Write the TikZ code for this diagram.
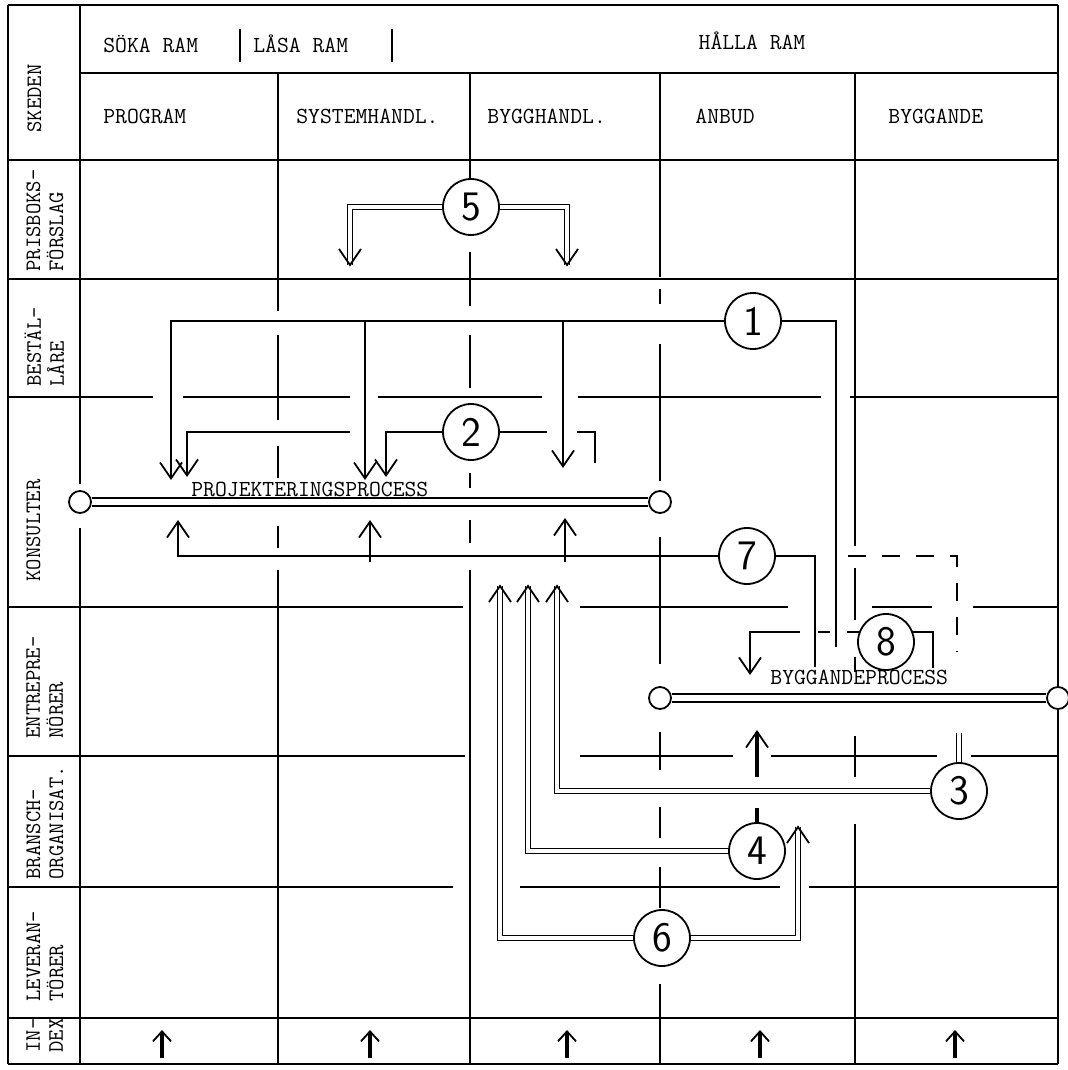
\documentclass[tikz,border=0pt]{standalone}
\usepackage{fontspec}
\usepackage{tikz}
\usetikzlibrary{arrows.meta}
\usetikzlibrary{positioning}

\tikzset{
  gline/.style={line width=1pt},
  conn/.style={line width=0.9pt},
  dconn/.style={double, double distance=1.8pt, line width=0.55pt},
  procline/.style={double, double distance=3.2pt, line width=1pt},
  numcirc/.style={circle, draw, line width=0.9pt, minimum size=28pt, inner sep=0pt, font=\sffamily\fontsize{21}{21}\selectfont},
  endcirc/.style={circle, draw, line width=0.9pt, minimum size=11pt, inner sep=0pt, fill=white},
  tw/.style={font=\ttfamily\fontsize{11.5}{13}\selectfont, inner sep=0pt},
  rowlabel/.style={font=\ttfamily\fontsize{11}{11.5}\selectfont, inner sep=0pt, rotate=90, align=left, anchor=north west},
  barb/.style={line width=0.9pt},
  idx/.style={line width=1.6pt, -{Straight Barb[length=5pt,width=9pt,line width=0.9pt]}},
  >={Straight Barb[length=8pt,width=11pt]},
}
% open heads for the double flow lines
\newcommand{\uphead}[1]{\draw[barb] ([shift={(-11,16)}]#1) -- (#1) -- ++(11,16);}
\newcommand{\downhead}[1]{\draw[barb] ([shift={(-11,-16)}]#1) -- (#1) -- ++(11,-16);}

\begin{document}
\begin{tikzpicture}[x=0.5pt, y=-0.5pt]
    \useasboundingbox (0,0) rectangle (1067,1070);

    % Rows, broken where the flows pass
    \draw[gline]
      (8,5) -- (1058,5)
      (80,73) -- (1058,73)
      (8,160) -- (1058,160)
      (8,279) -- (1058,279)
      (8,397) -- (153,397) (183,397) -- (350,397) (378,397) -- (542,397) (578,397) -- (821,397) (850,397) -- (1058,397)
      (8,607) -- (463,607) (580,607) -- (788,607) (872,607) -- (932,607) (973,607) -- (1058,607)
      (8,756) -- (465,756) (580,756) -- (733,756) (771,756) -- (937,756) (971,756) -- (1058,756)
      (8,887) -- (453,887) (520,887) -- (780,887) (809,887) -- (1058,887)
      (8,1018) -- (1058,1018)
      (8,1064) -- (1058,1064);

    % Columns
    \draw[gline]
      (8,5) -- (8,1064)
      (80,5) -- (80,484) (80,528) -- (80,1064)
      (278,73) -- (278,311) (278,335) -- (278,420) (278,446) -- (278,478) (278,526) -- (278,548) (278,570) -- (278,1064)
      (470,73) -- (470,180) (470,252) -- (470,306) (470,335) -- (470,388) (470,473) -- (470,488) (470,520) -- (470,543) (470,570) -- (470,1064)
      (660,73) -- (660,277) (660,289) -- (660,304) (660,344) -- (660,481) (660,537) -- (660,664) (660,732) -- (660,770) (660,807) -- (660,838) (660,867) -- (660,908) (660,984) -- (660,1064)
      (855,73) -- (855,546) (855,568) -- (855,620) (855,657) -- (855,672) (855,736) -- (855,777) (855,824) -- (855,1064)
      (1058,5) -- (1058,686) (1058,710) -- (1058,1064)
      (240,29) -- (240,62) (392,29) -- (392,62);

    % Header
    \node[tw, anchor=west] (hsoka) at (103,44) {SÖKA RAM};
    \node[tw, anchor=west] (hlasa) at (253,44) {LÅSA RAM};
    \node[tw] (hhalla) at (752,41) {HÅLLA RAM};
    \node[tw, anchor=west] (cprog) at (103,116) {PROGRAM};
    \node[tw, anchor=west] (csys) at (296,116) {SYSTEMHANDL.};
    \node[tw, anchor=west] (cbygg) at (487,116) {BYGGHANDL.};
    \node[tw, anchor=west] (canbud) at (695,116) {ANBUD};
    \node[tw, anchor=west] (cbyggande) at (888,116) {BYGGANDE};

    % Row labels
    \node[rowlabel] (lsked) at (27,133) {SKEDEN};
    \node[rowlabel] (lpris) at (26,272) {PRISBOKS-\\FÖRSLAG};
    \node[rowlabel] (lbest) at (24,387) {BESTÄL-\\LÅRE};
    \node[rowlabel] (lkons) at (26,582) {KONSULTER};
    \node[rowlabel] (lentr) at (26,739) {ENTREPRE-\\NÖRER};
    \node[rowlabel] (lbran) at (26,880) {BRANSCH-\\ORGANISAT.};
    \node[rowlabel] (llev) at (26,1002) {LEVERAN-\\TÖRER};
    \node[rowlabel] (lidx) at (26,1053) {IN-\\DEX};

    % Process lines
    \node[endcirc] (pL) at (80,502) {};
    \node[endcirc] (pR) at (660,502) {};
    \draw[procline] (pL) -- (pR);
    \node[tw, anchor=west] (ptext) at (191,489) {PROJEKTERINGSPROCESS};
    \node[endcirc] (bL) at (660,698) {};
    \node[endcirc] (bR) at (1058,698) {};
    \draw[procline] (bL) -- (bR);
    \node[tw, anchor=west] (btext) at (770,677) {BYGGANDEPROCESS};

    % 5
    \node[numcirc] (n5) at (471,207) {5};
    \coordinate (t5a) at (350,265);
    \coordinate (t5b) at (567,265);
    \draw[dconn] (n5.west) -| (t5a);
    \draw[dconn] (n5.east) -| (t5b);
    \downhead{t5a} \downhead{t5b}

    % 1
    \node[numcirc] (n1) at (753,321) {1};
    \coordinate (j1b) at (365,321);
    \coordinate (j1c) at (563,321);
    \coordinate (t1a) at (171,480);
    \coordinate (t1b) at (365,480);
    \coordinate (t1c) at (563,468);
    \coordinate (e1) at (836,647);
    \draw[conn, ->] (n1.west) -| (t1a);
    \draw[conn, ->] (j1b) -- (t1b);
    \draw[conn, ->] (j1c) -- (t1c);
    \draw[conn] (n1.east) -| (e1);

    % 2
    \node[numcirc] (n2) at (471,432) {2};
    \coordinate (j2a) at (350,432);
    \coordinate (j2b) at (547,432);
    \coordinate (j2c) at (577,432);
    \coordinate (t2a) at (187,477);
    \coordinate (t2b) at (386,477);
    \coordinate (e2) at (595,463);
    \draw[conn, ->] (n2.west) -| (t2b);
    \draw[conn, ->] (j2a) -| (t2a);
    \draw[conn] (n2.east) -- (j2b);
    \draw[conn] (j2c) -| (e2);

    % 7
    \node[numcirc] (n7) at (747,556) {7};
    \coordinate (j7b) at (370,562);
    \coordinate (j7c) at (565,562);
    \coordinate (t7a) at (178,520);
    \coordinate (t7b) at (370,520);
    \coordinate (t7c) at (565,518);
    \coordinate (e7) at (815,667);
    \coordinate (d7a) at (848,556);
    \coordinate (d7b) at (957,652);
    \draw[conn, ->] (n7.west) -| (t7a);
    \draw[conn, ->] (j7b) -- (t7b);
    \draw[conn, ->] (j7c) -- (t7c);
    \draw[conn] (n7.east) -| (e7);
    \draw[conn, dash pattern=on 9pt off 8pt] (d7a) -| (d7b);

    % 8
    \node[numcirc] (n8) at (886,642) {8};
    \coordinate (j8a) at (847,632);
    \coordinate (j8b) at (830,632);
    \coordinate (j8c) at (818,632);
    \coordinate (j8d) at (800,632);
    \coordinate (t8) at (750,675);
    \coordinate (e8) at (933,668);
    \draw[conn] (n8.160) -- (j8a);
    \draw[conn] (j8b) -- (j8c);
    \draw[conn, ->] (j8d) -| (t8);
    \draw[conn] (n8.20) -| (e8);

    % 3
    \node[numcirc] (n3) at (959,791) {3};
    \coordinate (t3) at (557,586);
    \coordinate (e3) at (959,733);
    \draw[dconn] (n3.west) -| (t3);
    \draw[dconn] (n3.north) -- (e3);
    \uphead{t3}

    % 4
    \node[numcirc] (n4) at (757,851) {4};
    \coordinate (t4) at (528,586);
    \coordinate (j4a) at (757,808);
    \coordinate (j4b) at (757,777);
    \coordinate (t4u) at (757,730);
    \draw[dconn] (n4.west) -| (t4);
    \uphead{t4}
    \draw[line width=1.8pt] (n4.north) -- (j4a);
    \draw[line width=1.8pt, -{Straight Barb[length=8pt,width=11pt,line width=0.9pt]}] (j4b) -- (t4u);

    % 6
    \node[numcirc] (n6) at (662,938) {6};
    \coordinate (t6a) at (500,586);
    \coordinate (t6b) at (798,827);
    \draw[dconn] (n6.west) -| (t6a);
    \draw[dconn] (n6.east) -| (t6b);
    \uphead{t6a} \uphead{t6b}

    % Index arrows
    \coordinate (i1) at (162,1030);
    \coordinate (i2) at (370,1030);
    \coordinate (i3) at (567,1030);
    \coordinate (i4) at (760,1030);
    \coordinate (i5) at (955,1030);
    \draw[idx] ([yshift=-14pt]i1) -- (i1);
    \draw[idx] ([yshift=-14pt]i2) -- (i2);
    \draw[idx] ([yshift=-14pt]i3) -- (i3);
    \draw[idx] ([yshift=-14pt]i4) -- (i4);
    \draw[idx] ([yshift=-14pt]i5) -- (i5);
\end{tikzpicture}
\end{document}
